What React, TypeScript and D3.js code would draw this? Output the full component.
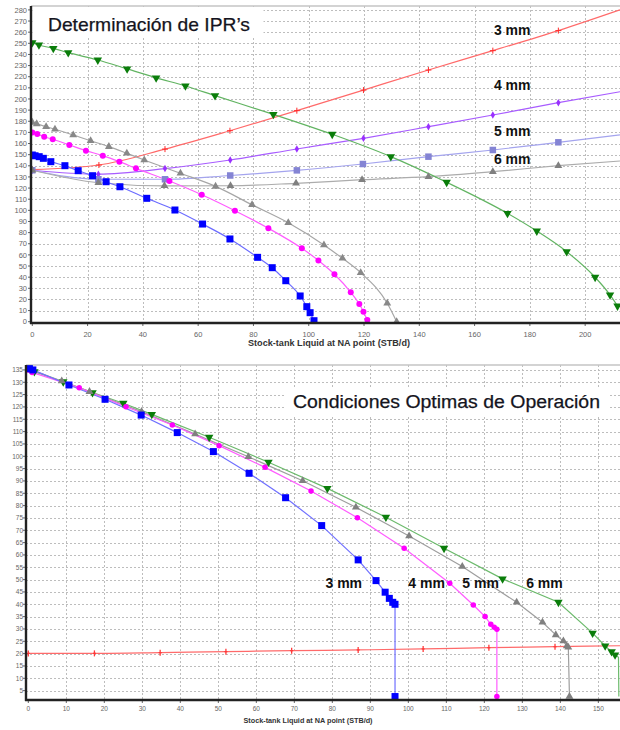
import React from "react";
import * as d3 from "d3";

type Pt = [number, number];

// ---------- Top chart: Determinación de IPR's ----------
const topXTicks = [0, 20, 40, 60, 80, 100, 120, 140, 160, 180, 200];
const topYTicks = d3.range(0, 281, 10);

const topIprBlue: Pt[] = [[0,149.7],[1,149],[2.5,148.2],[4,146.7],[6.7,143.7],[11.8,140.1],[16.6,135.6],[21.8,131.1],[26.7,125.7],[31.7,121.2],[41.4,110.8],[51.6,100.3],[61.6,87.7],[71.5,74.3],[81.5,57.8],[86.8,48.5],[91.7,36.8],[96.9,23.1],[99.3,13.5],[100.5,8.1],[101.9,0.9]];
const topIprMagenta: Pt[] = [[0,170],[1.8,168.6],[4.3,166.1],[7.4,163.8],[13.4,158.7],[19.4,153.6],[25.5,149.1],[31.5,143.7],[37.5,137.7],[49.6,126.3],[61.3,114],[73.3,99.7],[85.4,83.9],[97.5,65.9],[103.5,55],[109.3,42.6],[115.2,26.4],[118.3,15.9],[119.8,9],[121.2,1.5]];
const topIprGray: Pt[] = [[0,179],[1.6,177.6],[5,175.1],[8.2,172.8],[14.8,167.7],[21.1,162.5],[27.7,157.2],[34.2,151.2],[40.5,145.2],[53.6,133.3],[66.3,121.5],[79.5,105],[92.6,88.9],[105.5,68.9],[112.2,56.9],[118.8,44],[128.4,16.5],[131.8,0]];
const topIprGreen: Pt[] = [[0,250.6],[2.4,248.5],[7.6,245.5],[13,241.6],[23.7,235],[34.3,227],[44.8,219],[55.4,211.7],[66.1,203],[87.2,186.2],[108.5,168.3],[129.7,148.2],[149.9,125.2],[171.9,97.3],[182.5,81.4],[193.3,62.9],[203.6,39.9],[209,24],[211.7,14.1]];

const topOut3mm: Pt[] = [[0,136.5],[24.1,140.7],[48,155],[71.5,171.5],[95.7,189.5],[119.8,208],[143.3,226],[166.6,243.4],[190.3,261.4],[212.6,280]];
const topOut4mm: Pt[] = [[0,136],[23.9,132.5],[48,137.5],[71.6,145.2],[95.7,155.1],[119.8,164.7],[143.3,175.1],[166.6,185.6],[190.3,196.7],[212.6,206.5]];
const topOut5mm: Pt[] = [[0,136],[23.9,127.9],[48,127.9],[71.6,131.3],[95.7,135.9],[119.6,141.6],[143.3,148.2],[166.6,154.2],[190.3,161.1],[212.6,167.7]];
const topOut6mm: Pt[] = [[0,136],[23.9,124.8],[47.8,122],[71.7,122.1],[95.4,124.3],[119.3,127.5],[143.3,130.2],[166.6,134.7],[190.3,140.1],[212.6,144.3]];

const topLabels = ["3 mm", "4 mm", "5 mm", "6 mm"];
const topLabelValues: Pt[] = [[167, 257.5], [167, 208], [167, 166.8], [167, 141.6]];

// ---------- Bottom chart: Condiciones Optimas de Operación ----------
const botXTicks = d3.range(0, 151, 10);
const botYTicks = d3.range(5, 136, 5);

const bot3mm: Pt[] = [[0.3,135.5],[1.2,135],[10.7,128.9],[20.2,123.1],[29.7,116.7],[39.2,109.6],[48.7,101.9],[58.1,93.1],[67.7,83.2],[77.2,71.9],[86.8,58],[91.5,49.6],[93.9,44.9],[95,42.4],[95.9,40.8],[96.5,40],[96.5,2.6]];
const bot4mm: Pt[] = [[0,135],[1,134],[13.4,127.8],[25.7,120.1],[37.9,112.7],[50.2,104.3],[62.3,95.5],[74.4,85.9],[86.6,75.1],[98.9,62.7],[110.9,48.5],[117.1,39.7],[120.2,35],[121.7,31.9],[122.6,30.7],[123.3,29.9],[123.3,2.6]];
const bot5mm: Pt[] = [[0,135.5],[8.8,130.5],[16.1,126.2],[29.8,118.1],[43.9,109],[57.9,99.8],[72.2,90.1],[86.2,79.3],[100.2,67.7],[114.2,55.3],[128.5,40.8],[135.3,32.7],[138.8,27.6],[140.8,25.1],[141.7,23.1],[142.1,22.6],[142.4,2.6]];
const bot6mm: Pt[] = [[0,135.8],[1.6,134.3],[9.2,130.2],[16.9,125.8],[25,121.5],[32.5,117],[47.6,107.7],[63.2,97.6],[78.7,87],[94.1,75.3],[109.4,62.7],[124.8,50.3],[139.5,40.8],[148.5,28.3],[151.8,23.1],[153.5,20.8],[154.4,19.5],[155.3,18.5],[155.4,2.6]];
const botOutflow: Pt[] = [[0,20.1],[17.4,20.1],[34.7,20.4],[52,20.8],[69.3,21.2],[86.8,21.5],[103.9,21.9],[121.2,22.4],[138.6,22.8],[155.7,23.2]];

const botLabels = ["3 mm", "4 mm", "5 mm", "6 mm"];
const botLabelValues: Pt[] = [[78.2, 46.6], [100, 46.6], [114.2, 46.6], [131, 46.6]];

const xTitle = "Stock-tank Liquid at NA point (STB/d)";

type Marker = "square" | "circle" | "tri" | "triDown" | "plus" | "diamond" | "vtick";
interface Series { data: Pt[]; line: string; fill: string; marker: Marker; size: number; }

const FONT = "'Liberation Sans', Arial, sans-serif";

function MarkerShape({ m, x, y, c, s }: { m: Marker; x: number; y: number; c: string; s: number }) {
  switch (m) {
    case "square":
      return <rect x={x - s / 2} y={y - s / 2} width={s} height={s} fill={c} />;
    case "circle":
      return <circle cx={x} cy={y} r={s / 2} fill={c} />;
    case "tri":
      return <path d={d3.symbol(d3.symbolTriangle, s * s * 0.55)()!} transform={`translate(${x},${y})`} fill={c} />;
    case "triDown":
      return <path d={d3.symbol(d3.symbolTriangle, s * s * 0.55)()!} transform={`translate(${x},${y}) rotate(180)`} fill={c} />;
    case "diamond":
      return <path d={d3.symbol(d3.symbolDiamond, s * s * 0.45)()!} transform={`translate(${x},${y})`} fill={c} />;
    case "plus":
      return (
        <g stroke={c} strokeWidth={1}>
          <line x1={x - s / 2} x2={x + s / 2} y1={y} y2={y} />
          <line x1={x} x2={x} y1={y - s / 2} y2={y + s / 2} />
        </g>
      );
    case "vtick":
      return (
        <g stroke={c} strokeWidth={1.3}>
          <line x1={x - 1.5} x2={x + 1.5} y1={y} y2={y} />
          <line x1={x} x2={x} y1={y - s / 2} y2={y + s / 2} />
        </g>
      );
  }
}

interface PanelProps {
  id: string;
  left: number; right: number; top: number; bottom: number;
  xDomain: [number, number]; xRange: [number, number];
  yDomain: [number, number]; yRange: [number, number];
  xTicks: number[]; yTicks: number[];
  series: Series[];
  axisX: number; axisY: number;
  tickFont: number; yLabelX: number; xLabelY: number;
  titleText: string; titleX: number; titleY: number; titleLen: number; titleSize: number;
  titleBox: [number, number, number, number];
  axTitleX: number; axTitleY: number; axTitleLen: number; axTitleSize: number;
  labels: string[]; labelPos: Pt[]; labelSize: number;
}

function Panel(p: PanelProps) {
  const x = d3.scaleLinear().domain(p.xDomain).range(p.xRange);
  const y = d3.scaleLinear().domain(p.yDomain).range(p.yRange);
  const line = d3.line<Pt>().x(d => x(d[0])).y(d => y(d[1])).curve(d3.curveMonotoneX);
  const lineLin = d3.line<Pt>().x(d => x(d[0])).y(d => y(d[1]));
  const clipId = `clip-${p.id}`;
  return (
    <g>
      <defs>
        <clipPath id={clipId}>
          <rect x={p.axisX} y={p.top} width={p.right - p.axisX} height={p.axisY - p.top} />
        </clipPath>
      </defs>
      {/* grid */}
      <g stroke="#bdbdbd" strokeWidth={1} strokeDasharray="2,2">
        {p.xTicks.filter(t => t > p.xDomain[0]).map(t => (
          <line key={"gx" + t} x1={Math.round(x(t)) + 0.5} x2={Math.round(x(t)) + 0.5} y1={p.top} y2={p.axisY} />
        ))}
        {p.yTicks.map(t => (
          <line key={"gy" + t} x1={p.axisX} x2={p.right} y1={Math.round(y(t)) + 0.5} y2={Math.round(y(t)) + 0.5} />
        ))}
      </g>
      {/* top border */}
      <line x1={p.axisX} x2={p.right} y1={p.top} y2={p.top} stroke="#c4c4c4" strokeWidth={1.5} />
      {/* title box */}
      <rect x={p.titleBox[0]} y={p.titleBox[1]} width={p.titleBox[2]} height={p.titleBox[3]} fill="#fff" />
      <text x={p.titleX} y={p.titleY} fontFamily={FONT} fontSize={p.titleSize} fill="#141420"
        stroke="#141420" strokeWidth={0.25}
        textLength={p.titleLen} lengthAdjust="spacingAndGlyphs">{p.titleText}</text>
      {/* series */}
      <g clipPath={`url(#${clipId})`}>
        {p.series.map((s, i) => {
          const vertical = s.data.length > 1 && s.data[s.data.length - 1][0] - s.data[s.data.length - 2][0] < 0.5;
          return (
            <path key={"l" + i} d={(vertical ? lineLin : line)(s.data)!} fill="none" stroke={s.line} strokeWidth={1.2} />
          );
        })}
        {p.series.map((s, i) => (
          <g key={"m" + i}>
            {s.data.filter(d => d[0] < p.xDomain[1] - 0.5).map((d, j) => (
              <MarkerShape key={j} m={s.marker} x={x(d[0])} y={y(d[1])} c={s.fill} s={s.size} />
            ))}
          </g>
        ))}
      </g>
      {/* labels */}
      {p.labels.map((l, i) => (
        <text key={"lab" + i} x={x(p.labelPos[i][0])} y={y(p.labelPos[i][1])} fontFamily={FONT} fontWeight="bold"
          fontSize={p.labelSize} fill="#111">{l}</text>
      ))}
      {/* axes */}
      <g stroke="#666" strokeWidth={1}>
        {p.yTicks.map(t => (
          <line key={"ty" + t} x1={p.axisX - 3} x2={p.axisX} y1={y(t)} y2={y(t)} />
        ))}
        {p.xTicks.map(t => (
          <line key={"tx" + t} x1={x(t)} x2={x(t)} y1={p.axisY} y2={p.axisY + 3} />
        ))}
      </g>
      <line x1={p.axisX} x2={p.axisX} y1={p.top} y2={p.axisY + 1} stroke="#222" strokeWidth={2.4} />
      <line x1={p.axisX - 1} x2={p.right} y1={p.axisY} y2={p.axisY} stroke="#222" strokeWidth={2.4} />
      <g fontFamily={FONT} fontSize={p.tickFont} fill="#666">
        {p.yTicks.map(t => (
          <text key={"yl" + t} x={p.yLabelX} y={y(t) + p.tickFont * 0.35} textAnchor="end">{t}</text>
        ))}
        {p.xTicks.map(t => (
          <text key={"xl" + t} x={x(t)} y={p.xLabelY} textAnchor="middle">{t}</text>
        ))}
      </g>
      <text x={p.axTitleX} y={p.axTitleY} textAnchor="middle" fontFamily={FONT} fontWeight="bold"
        fontSize={p.axTitleSize} fill="#333" textLength={p.axTitleLen} lengthAdjust="spacingAndGlyphs">{xTitle}</text>
    </g>
  );
}

const topSeries: Series[] = [
  { data: topOut3mm, line: "#ff6a6a", fill: "#ff2a2a", marker: "plus", size: 6 },
  { data: topOut4mm, line: "#a85cff", fill: "#9a30ff", marker: "diamond", size: 6 },
  { data: topOut5mm, line: "#a4a4ee", fill: "#8484d4", marker: "square", size: 6.5 },
  { data: topOut6mm, line: "#acacac", fill: "#808080", marker: "tri", size: 7 },
  { data: topIprGreen, line: "#62b462", fill: "#0a7d0a", marker: "triDown", size: 7.5 },
  { data: topIprGray, line: "#a6a6a6", fill: "#888888", marker: "tri", size: 7 },
  { data: topIprMagenta, line: "#ff5cff", fill: "#ff00ff", marker: "circle", size: 6 },
  { data: topIprBlue, line: "#6b6bff", fill: "#0000ff", marker: "square", size: 7 },
];

const botSeries: Series[] = [
  { data: botOutflow, line: "#ff6a6a", fill: "#ff3a3a", marker: "vtick", size: 6 },
  { data: bot6mm, line: "#6cba6c", fill: "#0a7d0a", marker: "triDown", size: 7.5 },
  { data: bot5mm, line: "#9e9e9e", fill: "#808080", marker: "tri", size: 7 },
  { data: bot4mm, line: "#ff5cff", fill: "#ff00ff", marker: "circle", size: 5.5 },
  { data: bot3mm, line: "#7070ff", fill: "#0000ff", marker: "square", size: 7 },
];

export default function App() {
  return (
    <svg width={620} height={730} style={{ position: "absolute", left: 0, top: 0, background: "#fff" }}>
      <rect width={620} height={730} fill="#fff" />
      <Panel
        id="top" left={0} right={620} top={6} bottom={350}
        xDomain={[0, 212.6]} xRange={[32.3, 620]}
        yDomain={[0, 283.5]} yRange={[321.7, 6]}
        xTicks={topXTicks} yTicks={topYTicks} series={topSeries}
        axisX={31} axisY={323}
        tickFont={7.5} yLabelX={27} xLabelY={337}
        titleText="Determinación de IPR’s" titleX={48} titleY={31} titleLen={202} titleSize={19}
        titleBox={[32.5, 7, 231, 31]}
        axTitleX={329} axTitleY={346} axTitleLen={162} axTitleSize={8.5}
        labels={topLabels} labelPos={topLabelValues} labelSize={14}
      />
      <Panel
        id="bot" left={0} right={620} top={365} bottom={730}
        xDomain={[0, 155.7]} xRange={[28.3, 620]}
        yDomain={[1.2, 137]} yRange={[700, 365]}
        xTicks={botXTicks} yTicks={botYTicks} series={botSeries}
        axisX={26} axisY={700}
        tickFont={6.5} yLabelX={23} xLabelY={711}
        titleText="Condiciones Optimas de Operación" titleX={293} titleY={408} titleLen={307} titleSize={18}
        titleBox={[285, 387, 325, 28]}
        axTitleX={308} axTitleY={723} axTitleLen={129} axTitleSize={7.5}
        labels={botLabels} labelPos={botLabelValues} labelSize={14}
      />
    </svg>
  );
}
